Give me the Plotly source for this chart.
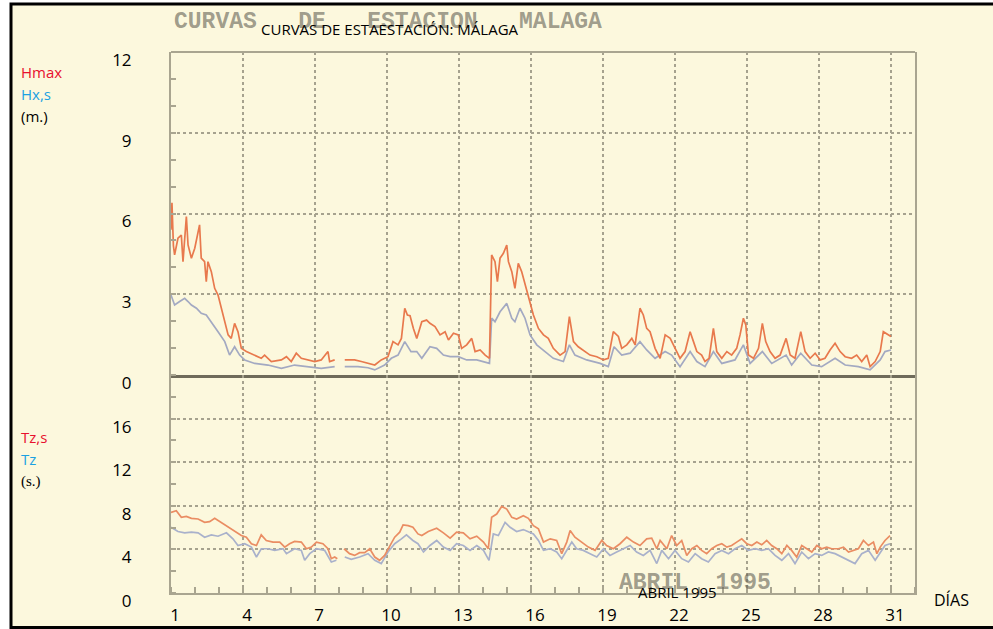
import plotly.graph_objects as go

# ---------------- data ----------------
hmax_day = [1.0, 1.04, 1.1, 1.15, 1.29, 1.43, 1.5, 1.64, 1.71, 1.85, 1.99, 2.19, 2.26, 2.4, 2.47, 2.54,
            2.68, 2.82, 2.96, 3.1, 3.24, 3.38, 3.51, 3.65, 3.79, 3.93, 4.14, 4.49, 4.76, 4.9, 5.18,
            5.6, 5.81, 6.01, 6.22, 6.43, 6.71, 6.99, 7.26, 7.54, 7.61, 7.82, 8.0, 8.24, 8.65, 8.93,
            9.21, 9.49, 9.76, 10.04, 10.25, 10.46, 10.6, 10.74, 10.85, 10.96, 11.1, 11.24, 11.45,
            11.65, 11.79, 12.0, 12.21, 12.42, 12.56, 12.77, 12.97, 13.11, 13.32, 13.53, 13.67,
            13.88, 14.09, 14.27, 14.36, 14.5, 14.6, 14.71, 14.85, 14.99, 15.06, 15.2, 15.33,
            15.47, 15.61, 15.75, 15.89, 16.1, 16.31, 16.52, 16.72, 16.93, 17.21, 17.42, 17.6,
            17.77, 17.97, 18.18, 18.46, 18.74, 19.02, 19.22, 19.43, 19.64, 19.78, 19.99, 20.2,
            20.34, 20.54, 20.68, 20.82, 20.96, 21.17, 21.38, 21.59, 21.8, 22.0, 22.21, 22.42,
            22.63, 22.77, 22.91, 23.11, 23.25, 23.42, 23.6, 23.74, 23.95, 24.16, 24.36, 24.57,
            24.71, 24.85, 24.95, 25.06, 25.27, 25.48, 25.64, 25.78, 25.96, 26.17, 26.38, 26.63,
            26.8, 27.0, 27.24, 27.42, 27.63, 27.84, 28.05, 28.25, 28.46, 28.67, 28.88, 29.09,
            29.36, 29.57, 29.78, 29.99, 30.13, 30.34, 30.55, 30.68, 30.89, 31.0]
hmax_val = [5.4, 6.4, 4.8, 4.46, 5.08, 5.2, 4.21, 5.89, 4.83, 4.34, 4.71, 5.58, 4.34, 4.21, 3.47, 4.21,
            3.84, 3.22, 2.97, 2.48, 1.98, 1.49, 1.36, 1.92, 1.61, 0.99, 0.87, 0.74, 0.62, 0.74, 0.5,
            0.56, 0.68, 0.5, 0.81, 0.62, 0.56, 0.5, 0.56, 0.87, 0.5, 0.56, None, 0.56, 0.56, 0.5,
            0.43, 0.37, 0.56, 0.68, 1.24, 1.12, 1.36, 2.48, 2.23, 2.2, 1.73, 1.36, 1.98,
            2.04, 1.92, 1.8, 1.49, 1.61, 1.3, 1.55, 1.49, 0.99, 1.12, 1.36, 0.87,
            0.93, 0.74, 0.62, 4.46, 4.21, 3.47, 4.34, 4.52, 4.83, 4.21, 3.84, 3.22,
            4.15, 3.84, 3.35, 2.97, 2.23, 1.73, 1.49, 1.36, 0.99, 0.74, 0.87, 2.17,
            1.24, 1.05, 0.93, 0.74, 0.68, 0.56, 0.62, 1.61, 1.43, 0.99, 1.12, 1.36,
            1.12, 2.48, 2.23, 1.73, 1.61, 0.99, 0.62, 1.49, 1.36, 0.99, 0.62, 0.87,
            1.61, 1.24, 0.87, 0.74, 0.5, 0.62, 1.73, 0.87, 0.62, 0.87, 0.74, 0.99,
            1.49, 2.11, 1.86, 0.74, 0.62, 0.99, 1.92, 1.24, 0.87, 0.62, 0.74, 1.36,
            0.74, 0.62, 1.61, 0.87, 0.62, 0.81, 0.56, 0.62, 0.93, 1.18, 0.87, 0.68,
            0.62, 0.74, 0.5, 0.74, 0.31, 0.5, 0.87, 1.61, 1.49, 1.43]

hs_day = [1.0, 1.15, 1.36, 1.57, 1.71, 1.85, 2.06, 2.26, 2.47, 2.68, 2.96, 3.24, 3.44, 3.65, 3.86,
          4.07, 4.49, 5.04, 5.6, 6.15, 6.71, 7.26, 7.82, 8.0, 8.24, 8.79, 9.21, 9.49, 9.9, 10.18,
          10.46, 10.74, 11.0, 11.24, 11.45, 11.79, 12.07, 12.35, 12.63, 12.97, 13.32, 13.74,
          14.27, 14.36, 14.5, 14.71, 14.99, 15.2, 15.33, 15.54, 15.75, 15.96, 16.24, 16.52,
          16.93, 17.35, 17.6, 17.83, 18.32, 18.88, 19.22, 19.46, 19.78, 20.13, 20.54, 20.82,
          21.17, 21.59, 21.86, 22.21, 22.63, 22.91, 23.25, 23.6, 23.95, 24.5, 24.85, 25.13,
          25.64, 26.03, 26.63, 26.86, 27.24, 27.7, 28.11, 28.67, 29.09, 29.64, 30.13, 30.55,
          30.75, 31.0]
hs_val = [2.97, 2.6, 2.73, 2.85, 2.73, 2.6, 2.48, 2.29, 2.23, 1.98, 1.61, 1.24, 0.74, 1.05, 0.74,
          0.56, 0.43, 0.37, 0.25, 0.37, 0.31, 0.25, 0.31, None, 0.31, 0.31, 0.27, 0.19, 0.37, 0.62,
          0.74, 1.24, 0.87, 0.87, 0.62, 1.05, 0.99, 0.74, 0.68, 0.68, 0.56, 0.56,
          0.43, 2.11, 1.98, 2.35, 2.66, 2.11, 1.98, 2.48, 2.11, 1.49, 1.12, 0.93,
          0.62, 0.5, 1.12, 0.74, 0.56, 0.43, 0.31, 1.05, 0.74, 0.81, 1.24, 0.93,
          0.62, 0.87, 0.74, 0.31, 0.87, 0.5, 0.31, 0.87, 0.43, 0.56, 1.12, 0.43,
          0.87, 0.43, 0.74, 0.37, 0.81, 0.37, 0.31, 0.62, 0.37, 0.31, 0.19, 0.56,
          0.87, 0.93]

tzs_day = [1.0, 1.22, 1.43, 1.64, 1.85, 2.13, 2.4, 2.61, 2.82, 3.03, 3.24, 3.51, 3.72, 3.93, 4.14,
           4.35, 4.56, 4.76, 4.97, 5.25, 5.53, 5.74, 5.94, 6.15, 6.43, 6.64, 6.85, 7.06, 7.33,
           7.54, 7.68, 7.82, 7.93, 8.05, 8.21, 8.44, 8.65, 8.86, 9.07, 9.28, 9.49, 9.69, 9.9,
           10.11, 10.32, 10.53, 10.67, 10.88, 11.08, 11.29, 11.45, 11.72, 12.07, 12.35, 12.63,
           12.9, 13.18, 13.46, 13.74, 14.02, 14.22, 14.36, 14.57, 14.78, 14.99, 15.2, 15.4,
           15.68, 15.89, 16.1, 16.31, 16.52, 16.8, 17.07, 17.28, 17.49, 17.63, 17.83, 18.11,
           18.39, 18.67, 18.95, 19.15, 19.43, 19.71, 19.99, 20.27, 20.54, 20.82, 21.03, 21.24,
           21.38, 21.66, 21.86, 22.07, 22.28, 22.49, 22.7, 22.91, 23.11, 23.32, 23.53, 23.74,
           23.95, 24.16, 24.36, 24.57, 24.78, 24.99, 25.2, 25.41, 25.61, 25.82, 26.03, 26.24,
           26.45, 26.66, 26.86, 27.07, 27.28, 27.49, 27.7, 27.91, 28.11, 28.32, 28.53, 28.81,
           29.02, 29.23, 29.43, 29.64, 29.85, 30.06, 30.27, 30.41, 30.55, 30.75, 30.96]
tzs_val = [7.39, 7.55, 6.94, 7.03, 6.85, 6.79, 6.48, 6.55, 6.85, 6.55, 6.24, 5.88, 5.58, 5.27, 5.12,
           4.52, 4.36, 5.33, 4.82, 4.67, 4.67, 4.21, 4.52, 4.73, 4.67, 4.06, 4.21, 4.67, 4.52,
           4.06, 3.15, 3.3, 3.15, None, 4.06, 3.61, 3.45, 3.7, 3.7, 4.06, 3.3, 3.0, 3.45,
           4.36, 5.12, 5.58, 6.24, 6.18, 6.03, 5.42, 5.27, 5.64, 5.94, 5.52, 5.03,
           5.58, 5.52, 4.97, 5.21, 4.67, 4.06, 6.94, 7.24, 7.94, 7.7, 6.94, 6.79,
           7.09, 6.85, 6.18, 5.88, 4.67, 4.97, 4.82, 3.61, 4.67, 5.73, 5.12, 4.67,
           4.21, 3.91, 4.82, 4.36, 4.06, 4.52, 5.12, 4.67, 4.36, 4.97, 5.03, 4.06,
           4.82, 4.06, 5.27, 4.36, 4.82, 3.45, 4.06, 4.36, 3.91, 3.61, 4.06, 4.36,
           4.52, 4.21, 4.36, 4.67, 4.97, 4.52, 4.36, 4.67, 4.42, 4.82, 4.36, 4.06,
           3.61, 4.36, 3.91, 3.3, 4.36, 4.06, 3.76, 4.36, 4.06, 4.21, 4.06, 4.06,
           4.21, 3.76, 3.91, 4.06, 4.82, 4.36, 4.67, 3.61, 4.21, 4.82, 5.27]

tz_day = [1.0, 1.29, 1.57, 1.85, 2.13, 2.4, 2.68, 2.96, 3.31, 3.58, 3.79, 4.07, 4.35, 4.56, 4.76,
          5.04, 5.32, 5.67, 5.81, 6.15, 6.43, 6.57, 6.78, 7.06, 7.4, 7.68, 7.89, 8.05, 8.24, 8.51,
          8.86, 9.21, 9.49, 9.76, 10.04, 10.32, 10.6, 10.81, 11.08, 11.29, 11.52, 11.79, 12.07,
          12.35, 12.63, 12.9, 13.18, 13.46, 13.74, 14.02, 14.25, 14.43, 14.64, 14.92, 15.13,
          15.4, 15.68, 15.89, 16.1, 16.31, 16.52, 16.8, 17.07, 17.28, 17.49, 17.7, 17.9, 18.18,
          18.46, 18.74, 19.02, 19.29, 19.57, 19.85, 20.13, 20.4, 20.68, 20.96, 21.24, 21.45,
          21.73, 22.0, 22.28, 22.56, 22.84, 23.11, 23.39, 23.67, 23.95, 24.23, 24.5, 24.78,
          25.06, 25.34, 25.61, 25.89, 26.17, 26.45, 26.73, 27.0, 27.28, 27.56, 27.84, 28.11,
          28.39, 28.67, 28.95, 29.23, 29.5, 29.78, 30.06, 30.34, 30.55, 30.75, 30.96]
tz_val = [6.03, 5.64, 5.52, 5.58, 5.52, 5.12, 5.33, 5.21, 5.52, 4.97, 4.36, 4.52, 4.21, 3.3, 4.06,
          4.06, 3.91, 4.06, 3.61, 4.06, 3.91, 3.0, 3.61, 4.06, 3.91, 2.85, 3.0, None, 3.3, 3.09,
          3.3, 3.61, 3.0, 2.7, 3.76, 4.52, 4.97, 5.33, 4.82, 4.52, 3.76, 4.36, 4.82,
          4.21, 3.91, 4.52, 4.36, 3.91, 4.36, 3.91, 3.0, 5.42, 5.27, 6.48, 6.03,
          5.64, 5.82, 5.64, 5.42, 4.82, 3.91, 4.06, 3.76, 3.15, 3.91, 4.67, 4.06, 3.91,
          3.61, 3.3, 4.06, 3.45, 3.76, 4.06, 4.36, 3.76, 3.45, 3.91, 2.7, 3.91,
          3.15, 3.91, 3.15, 2.85, 3.61, 3.15, 2.85, 3.61, 3.91, 3.61, 4.06, 4.36,
          3.91, 4.06, 3.91, 4.06, 3.45, 3.0, 3.61, 2.7, 3.76, 3.15, 3.61, 3.45,
          3.76, 3.61, 3.3, 3.0, 2.7, 3.61, 3.91, 3.0, 3.76, 4.36, 4.52]

x_tickvals = [1, 4, 7, 10, 13, 16, 19, 22, 25, 28, 31]
x_ticktext = ["1", "4", "7", "10", "13", "16", "19", "22", "25", "28", "31"]
h_tickvals = [0, 3, 6, 9, 12]
h_ticktext = ["0", "3", "6", "9", "12"]
t_tickvals = [0, 4, 8, 12, 16]
t_ticktext = ["0", "4", "8", "12", "16"]

# ---------------- styling ----------------
CREAM = "#fcf8dd"
GRID = "#a6a28e"
AXIS = "#a9a590"
DARK = "#6f6b5a"
RED = "#e8794d"
BLUE = "#a3a9c2"
RED2 = "#ea8d63"
BLUE2 = "#a9b1cb"
FONT = "Open Sans"
GHOST = "rgba(100,98,86,0.62)"

W, H = 993, 629
ML, MR, MT, MB = 171, 78, 52, 36
PW, PH = W - ML - MR, H - MT - MB
split = 218 / PH


def px(x):
    return (x - ML) / PW


def py(y):
    return (H - MB - y) / PH


fig = go.Figure()
fig.add_trace(go.Scatter(x=hs_day, y=hs_val, mode="lines", line=dict(color=BLUE, width=1.7),
                         xaxis="x", yaxis="y", name="Hx,s", connectgaps=False))
fig.add_trace(go.Scatter(x=hmax_day, y=hmax_val, mode="lines", line=dict(color=RED, width=1.7),
                         xaxis="x", yaxis="y", name="Hmax", connectgaps=False))
fig.add_trace(go.Scatter(x=tz_day, y=tz_val, mode="lines", line=dict(color=BLUE2, width=1.7),
                         xaxis="x2", yaxis="y2", name="Tz", connectgaps=False))
fig.add_trace(go.Scatter(x=tzs_day, y=tzs_val, mode="lines", line=dict(color=RED2, width=1.7),
                         xaxis="x2", yaxis="y2", name="Tz,s", connectgaps=False))

grid_common = dict(showgrid=True, gridcolor=GRID, gridwidth=1.5, griddash="dot", zeroline=False,
                   automargin=False)

fig.update_layout(
    width=W, height=H, autosize=False,
    margin=dict(l=ML, r=MR, t=MT, b=MB, autoexpand=False),
    paper_bgcolor="white",
    plot_bgcolor="rgba(0,0,0,0)",
    showlegend=False,
    font=dict(family=FONT, color="black"),
    xaxis=dict(domain=[0, 1], anchor="y", range=[1, 32], matches="x2",
               tickvals=x_tickvals, showticklabels=False, ticks="",
               showline=True, linecolor=DARK, linewidth=2.5, **grid_common),
    yaxis=dict(domain=[split, 1], anchor="x", range=[0, 12],
               tickvals=h_tickvals, ticktext=h_ticktext, ticks="",
               tickfont=dict(size=17, family=FONT, color="black"),
               ticklabelstandoff=34, ticklabelshift=8,
               showline=True, linecolor=AXIS, linewidth=2, mirror=True,
               minor=dict(dtick=1, ticks="inside", ticklen=5, tickcolor=AXIS, tickwidth=1.5, showgrid=False),
               **grid_common),
    xaxis2=dict(domain=[0, 1], anchor="y2", range=[1, 32],
                tickvals=x_tickvals, ticktext=x_ticktext, ticks="",
                tickfont=dict(size=17, family=FONT, color="black"),
                ticklabelstandoff=6, ticklabelshift=4,
                showline=True, linecolor=AXIS, linewidth=2,
                minor=dict(dtick=1, tick0=1, ticks="inside", ticklen=6, tickcolor=AXIS, tickwidth=1.5, showgrid=False),
                **grid_common),
    yaxis2=dict(domain=[0, split], anchor="x2", range=[0, 20],
                tickvals=t_tickvals, ticktext=t_ticktext, ticks="",
                tickfont=dict(size=17, family=FONT, color="black"),
                ticklabelstandoff=34, ticklabelshift=8,
                showline=True, linecolor=AXIS, linewidth=2, mirror=True,
                minor=dict(dtick=2, ticks="inside", ticklen=5, tickcolor=AXIS, tickwidth=1.5, showgrid=False),
                **grid_common),
)

# background sheet with black frame, and top border of the upper panel
fig.add_shape(type="rect", xref="paper", yref="paper", layer="below",
              x0=px(11), x1=px(1000), y0=py(627.5), y1=py(4),
              fillcolor=CREAM, line=dict(color="black", width=3))
fig.add_shape(type="line", xref="paper", yref="paper", layer="above",
              x0=0, x1=1, y0=1, y1=1, line=dict(color=AXIS, width=2))

ann = []
# faded original scan lettering
ann.append(dict(text="<b>CURVAS   DE   ESTACION   MALAGA</b>", x=px(172), y=py(22), xref="paper", yref="paper",
                showarrow=False, xanchor="left", yanchor="middle",
                font=dict(family="Liberation Mono", size=23, color=GHOST)))
ann.append(dict(text="<b>ABRIL  1995</b>", x=px(617), y=py(583), xref="paper", yref="paper",
                showarrow=False, xanchor="left", yanchor="middle",
                font=dict(family="Liberation Mono", size=23, color=GHOST)))
# overlay text
ann.append(dict(text="CURVAS DE ESTAESTACIÓN: MÁLAGA", x=px(390), y=py(29), xref="paper", yref="paper",
                showarrow=False, xanchor="center", yanchor="middle", font=dict(family=FONT, size=15, color="black")))
ann.append(dict(text="ABRIL 1995", x=px(677), y=py(592), xref="paper", yref="paper",
                showarrow=False, xanchor="center", yanchor="middle", font=dict(family=FONT, size=15, color="black")))
ann.append(dict(text="DÍAS", x=px(951), y=py(600), xref="paper", yref="paper",
                showarrow=False, xanchor="center", yanchor="middle", font=dict(family=FONT, size=16, color="black")))
labels = [("Hmax", 72, "#e8112d", FONT), ("Hx,s", 94, "#1ba1e2", FONT), ("(m.)", 116, "black", FONT),
          ("Tz,s", 437, "#e8112d", FONT), ("Tz", 459, "#1ba1e2", FONT), ("(s.)", 481, "black", "Liberation Serif")]
for t, yy, c, f in labels:
    ann.append(dict(text=t, x=px(19), y=py(yy), xref="paper", yref="paper", showarrow=False,
                    xanchor="left", yanchor="middle", font=dict(family=f, size=15, color=c)))
fig.update_layout(annotations=ann)

fig.write_html("out.html", config={"displayModeBar": False},
               post_script="document.body.style.margin='0px';")
